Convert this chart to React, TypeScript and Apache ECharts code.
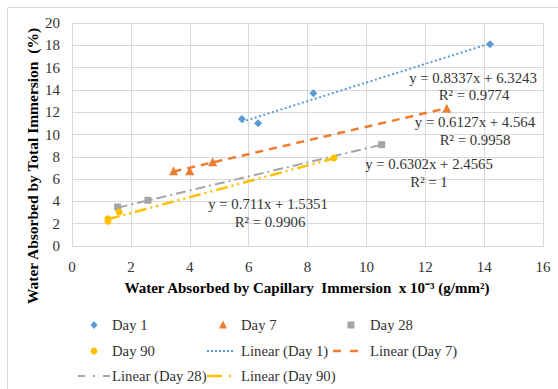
import React, { useEffect, useRef } from "react";
import * as echarts from "echarts";

const seriesNames = ["Day 1", "Day 7", "Day 28", "Day 90"];
const day1X = [5.77, 6.32, 8.2, 14.2];
const day1Y = [11.4, 11.0, 13.7, 18.1];
const day7X = [3.45, 4.0, 4.78, 12.73];
const day7Y = [6.75, 6.75, 7.55, 12.35];
const day28X = [1.55, 2.58, 10.52];
const day28Y = [3.5, 4.1, 9.09];
const day90X = [1.22, 1.22, 1.6, 8.9];
const day90Y = [2.22, 2.45, 3.05, 7.9];
const slopes = [0.8337, 0.6127, 0.6302, 0.711];
const intercepts = [6.3243, 4.564, 2.4565, 1.5351];
const rSquared = ["0.9774", "0.9958", "1", "0.9906"];
const xTicks = { min: 0, max: 16, interval: 2 };
const yTicks = { min: 0, max: 20, interval: 2 };

const colors = ["#5b9bd5", "#ed7d31", "#a5a5a5", "#ffc000"];
const symbols = ["diamond", "triangle", "rect", "circle"];
const symbolSizes = [8, 9, 7, 7];
const lineDashes: number[][] = [[2, 2.5], [8, 6], [10, 4, 2, 4], [12, 4, 2, 4, 2, 4]];
const legendDashes: number[][] = [[2, 2], [8, 9], [7, 8, 2, 8], [15, 7, 2, 20]];
const lineWidths = [2, 2.5, 2, 2.5];
const FONT = "'Liberation Serif', 'Times New Roman', serif";
const TEXT = "#333333";

const xs = [day1X, day7X, day28X, day90X];
const ys = [day1Y, day7Y, day28Y, day90Y];

// equation label anchor positions (pixel centres)
const eqPos = [
  [473, 78, 474, 95],
  [475, 122, 475, 140],
  [429, 164, 429, 182],
  [268, 204, 270, 222],
];

// legend layout: [markerCenterX / lineStartX, lineEndX, rowY, textX]
const markerLegendPos = [
  [94, 325, 112],
  [223, 325, 241],
  [351, 325, 370],
  [94, 351, 112],
];
const lineLegendPos = [
  [207, 235, 351, 241],
  [333, 358, 351, 370],
  [78, 110, 376, 112],
  [207, 233, 376, 241],
];

function markerGraphic(i: number, cx: number, cy: number): any {
  const c = colors[i];
  if (i === 0) {
    return { type: "polygon", shape: { points: [[cx, cy - 4], [cx + 3.5, cy], [cx, cy + 4], [cx - 3.5, cy]] }, style: { fill: c } };
  }
  if (i === 1) {
    return { type: "polygon", shape: { points: [[cx, cy - 4.5], [cx + 4, cy + 3.5], [cx - 4, cy + 3.5]] }, style: { fill: c } };
  }
  if (i === 2) {
    return { type: "rect", shape: { x: cx - 3.5, y: cy - 3.5, width: 7, height: 7 }, style: { fill: c } };
  }
  return { type: "circle", shape: { cx, cy, r: 3.5 }, style: { fill: c } };
}

export default function App() {
  const ref = useRef<HTMLDivElement>(null);
  useEffect(() => {
    if (!ref.current) return;
    const chart = echarts.init(ref.current, null, { renderer: "svg" });

    const scatterSeries = seriesNames.map((name, i) => ({
      name,
      type: "scatter",
      data: xs[i].map((x, j) => [x, ys[i][j]]),
      symbol: symbols[i],
      symbolSize: symbolSizes[i],
      itemStyle: { color: colors[i], opacity: 1 },
      z: 3,
    }));

    const lineSeries = seriesNames.map((name, i) => {
      const lo = Math.min(...xs[i]);
      const hi = Math.max(...xs[i]);
      return {
        name: `Linear (${name})`,
        type: "line",
        data: [
          [lo, slopes[i] * lo + intercepts[i]],
          [hi, slopes[i] * hi + intercepts[i]],
        ],
        symbol: "none",
        showSymbol: false,
        lineStyle: { color: colors[i], width: lineWidths[i], type: lineDashes[i] },
        itemStyle: { color: colors[i] },
        z: 2,
      };
    });

    const legendGraphics: any[] = [];
    seriesNames.forEach((name, i) => {
      const [cx, cy, tx] = markerLegendPos[i];
      legendGraphics.push(markerGraphic(i, cx, cy));
      legendGraphics.push({
        type: "text",
        x: tx,
        y: cy,
        style: { text: name, font: `14.7px ${FONT}`, fill: TEXT, align: "left", verticalAlign: "middle" },
      });
      const [x1, x2, ly, ltx] = lineLegendPos[i];
      legendGraphics.push({
        type: "line",
        shape: { x1, y1: ly, x2, y2: ly },
        style: { stroke: colors[i], lineWidth: lineWidths[i], lineDash: legendDashes[i] },
      });
      legendGraphics.push({
        type: "text",
        x: ltx,
        y: ly,
        style: { text: `Linear (${name})`, font: `14.7px ${FONT}`, fill: TEXT, align: "left", verticalAlign: "middle" },
      });
    });

    const eqGraphics: any[] = [];
    seriesNames.forEach((_, i) => {
      const p = eqPos[i];
      eqGraphics.push({
        type: "text",
        x: p[0],
        y: p[1],
        style: {
          text: `y = ${slopes[i]}x + ${intercepts[i]}`,
          font: `14.8px ${FONT}`,
          fill: TEXT,
          align: "center",
          verticalAlign: "middle",
        },
        z: 10,
      });
      eqGraphics.push({
        type: "text",
        x: p[2],
        y: p[3],
        style: {
          text: `R² = ${rSquared[i]}`,
          font: `14.8px ${FONT}`,
          fill: TEXT,
          align: "center",
          verticalAlign: "middle",
        },
        z: 10,
      });
    });

    chart.setOption({
      animation: false,
      backgroundColor: "#ffffff",
      grid: { left: 72, right: 15, top: 23, bottom: 143 },
      xAxis: {
        type: "value",
        min: xTicks.min,
        max: xTicks.max,
        interval: xTicks.interval,
        axisLine: { show: true, lineStyle: { color: "#d9d9d9" } },
        axisTick: { show: false },
        axisLabel: { fontFamily: FONT, fontSize: 15, color: TEXT, margin: 13 },
        splitLine: { show: true, lineStyle: { color: "#d9d9d9" } },
      },
      yAxis: {
        type: "value",
        min: yTicks.min,
        max: yTicks.max,
        interval: yTicks.interval,
        axisLine: { show: true, lineStyle: { color: "#d9d9d9" } },
        axisTick: { show: false },
        axisLabel: { fontFamily: FONT, fontSize: 15, color: TEXT, margin: 12 },
        splitLine: { show: true, lineStyle: { color: "#d9d9d9" } },
      },
      series: [...lineSeries, ...scatterSeries],
      graphic: [
        {
          type: "rect",
          shape: { x: 7.5, y: 7.5, width: 620, height: 420 },
          style: { fill: "none", stroke: "#d9d9d9", lineWidth: 1 },
          silent: true,
          z: -1,
        },
        {
          type: "text",
          x: 32,
          y: 166,
          rotation: Math.PI / 2,
          style: {
            text: "Water Absorbed by Total Immersion  (%)",
            font: `bold 15.5px ${FONT}`,
            fill: "#000000",
            align: "center",
            verticalAlign: "middle",
          },
        },
        {
          type: "text",
          x: 307,
          y: 288,
          style: {
            text: "Water Absorbed by Capillary  Immersion  x 10⁻³ (g/mm²)",
            font: `bold 15px ${FONT}`,
            fill: "#000000",
            align: "center",
            verticalAlign: "middle",
          },
        },
        ...legendGraphics,
        ...eqGraphics,
      ],
    });
    return () => chart.dispose();
  }, []);
  return <div ref={ref} style={{ width: 558, height: 389, position: "absolute", left: 0, top: 0 }} />;
}
